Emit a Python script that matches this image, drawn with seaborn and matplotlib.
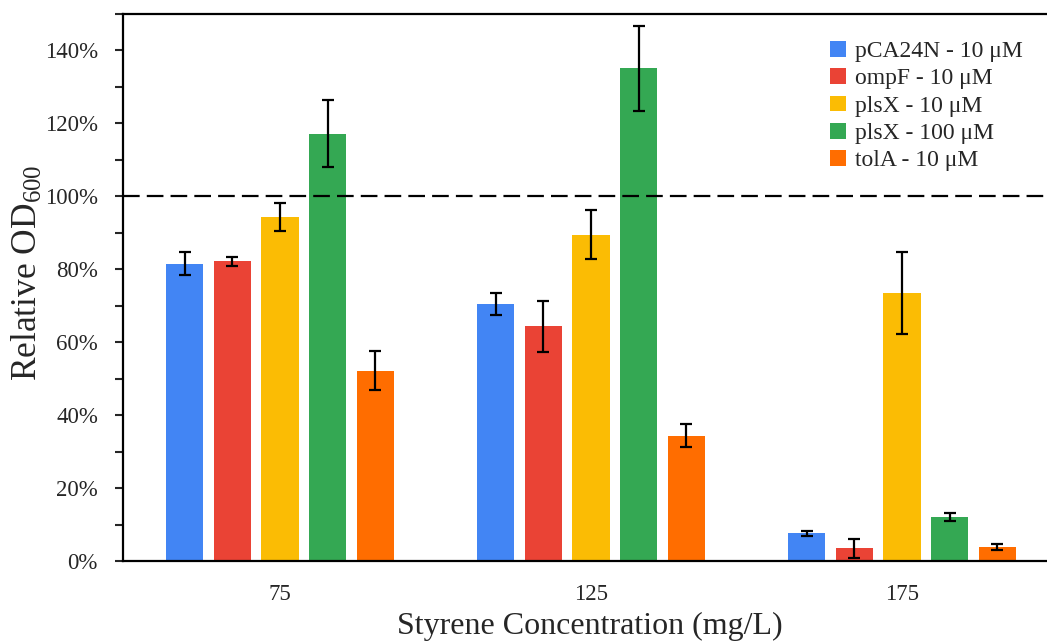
import pandas as pd
import matplotlib
matplotlib.use('Agg')
import matplotlib.pyplot as plt
import seaborn as sns
from matplotlib.ticker import MultipleLocator, PercentFormatter

concentrations = ['75', '125', '175']
strains = ['pCA24N - 10 μM', 'ompF - 10 μM', 'plsX - 10 μM', 'plsX - 100 μM', 'tolA - 10 μM']
colors = ['#4285F4', '#EA4335', '#FBBC04', '#34A853', '#FF6D00']

pca24n = [81.5, 70.4, 7.6]
ompf = [82.2, 64.4, 3.5]
plsx_10 = [94.4, 89.5, 73.5]
plsx_100 = [117.2, 135.1, 12.0]
tola = [52.2, 34.4, 3.8]

pca24n_err = [3.1, 3.0, 0.7]
ompf_err = [1.3, 7.0, 2.6]
plsx_10_err = [3.9, 6.7, 11.3]
plsx_100_err = [9.2, 11.6, 1.1]
tola_err = [5.4, 3.2, 0.9]

values = [pca24n, ompf, plsx_10, plsx_100, tola]
errors = [pca24n_err, ompf_err, plsx_10_err, plsx_100_err, tola_err]

rows = []
for s, vals in zip(strains, values):
    for c, v in zip(concentrations, vals):
        rows.append({'conc': c, 'strain': s, 'od': v})
df = pd.DataFrame(rows)

sns.set_style('white')
plt.rcParams['font.family'] = ['Liberation Serif', 'DejaVu Serif']
plt.rcParams['mathtext.fontset'] = 'custom'
plt.rcParams['mathtext.rm'] = 'Liberation Serif'
plt.rcParams['mathtext.it'] = 'Liberation Serif:italic'

fig = plt.figure(figsize=(10.47, 6.42), dpi=100)
ax = fig.add_axes([123 / 1047, 81 / 642, 933 / 1047, 547 / 642])

sns.barplot(data=df, x='conc', y='od', hue='strain', palette=colors, saturation=1,
            width=0.767, gap=0.218, linewidth=0, errorbar=None, ax=ax)

for cont, err in zip(ax.containers, errors):
    xs = [p.get_x() + p.get_width() / 2 for p in cont]
    ys = [p.get_height() for p in cont]
    ax.errorbar(xs, ys, yerr=err, fmt='none', ecolor='black',
                elinewidth=1.6, capsize=4.3, capthick=1.6, zorder=5)

ax.axhline(100, color='black', lw=1.6, ls=(0, (7.5, 3.2)), zorder=1)

ax.set_xlim(-0.505, 2.495)
ax.set_ylim(0, 150)
ax.yaxis.set_major_locator(MultipleLocator(20))
ax.yaxis.set_minor_locator(MultipleLocator(10))
ax.yaxis.set_major_formatter(PercentFormatter(decimals=0))
ax.tick_params(axis='y', which='both', left=True, direction='out', length=6,
               width=1.5, labelsize=16.5, pad=12)
ax.tick_params(axis='x', bottom=False, labelsize=16.5, pad=13)

for side in ['left', 'bottom', 'top']:
    ax.spines[side].set_linewidth(1.6)
    ax.spines[side].set_color('black')
ax.spines['right'].set_visible(False)

ax.set_xlabel('Styrene Concentration (mg/L)', fontsize=23, labelpad=5)
ax.set_ylabel('Relative OD$_{600}$', fontsize=25.5)
ax.yaxis.set_label_coords(-0.084, 0.527)

handles, labels = ax.get_legend_handles_labels()
ax.legend(handles, labels, loc='upper left', bbox_to_anchor=(0.748, 0.968),
          frameon=False, fontsize=17, handlelength=0.65, handleheight=0.65,
          handletextpad=0.4, labelspacing=0.26, borderaxespad=0)

fig.savefig('out.png', dpi=100)
